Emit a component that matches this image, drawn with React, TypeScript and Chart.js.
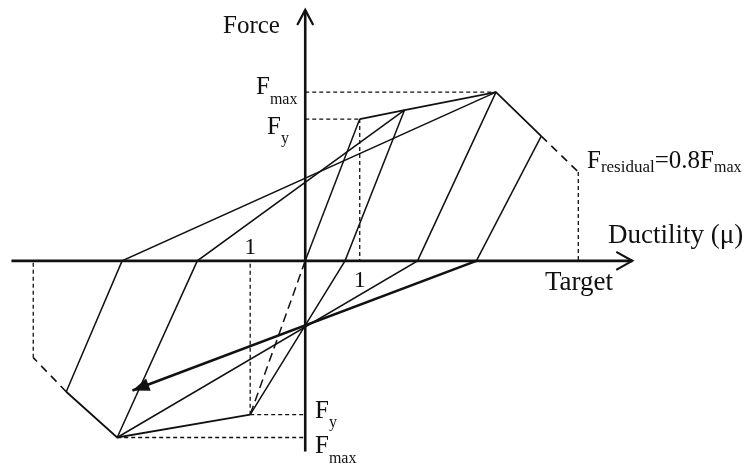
import React, { useEffect, useRef } from "react";
import { Chart, registerables } from "chart.js";

Chart.register(...registerables);

// Ductility (x, in units of yield displacement) and force (y, in units of Fy)
const xAxisLine = [[-5.39, 0], [6.0, 0]];
const yAxisLine = [[0, 1.77], [0, -1.345]];

const elasticPos = [[0, 0], [1.0, 1.0]];
const envelopePos = [[1.0, 1.0], [1.82, 1.063], [3.5, 1.19], [4.33, 0.88]];
const envelopePosDashed = [[4.33, 0.88], [5.01, 0.627]];
const envelopeNeg = [[-1.01, -1.085], [-3.45, -1.246], [-4.385, -0.923]];
const envelopeNegDashed = [[-4.385, -0.923], [-4.99, -0.683]];
const initialNegDashed = [[0, 0], [-1.01, -1.085]];

const unloadPos1 = [[1.82, 1.063], [0.73, 0], [-1.01, -1.085]];
const unloadPos2 = [[3.5, 1.19], [2.06, 0], [-3.45, -1.246]];
const unloadPos3 = [[4.33, 0.88], [3.14, 0]];
const targetArrow = [[3.14, 0], [-3.17, -0.915]];
const unloadNeg1 = [[-3.45, -1.246], [-1.98, 0], [1.82, 1.063]];
const unloadNeg2 = [[-4.385, -0.923], [-3.36, 0], [3.5, 1.19]];

const guideFmaxPos = [[0, 1.19], [3.5, 1.19]];
const guideFyPosH = [[0, 1.0], [1.0, 1.0]];
const guideFyPosV = [[1.0, 1.0], [1.0, 0]];
const guideResPos = [[5.01, 0.627], [5.01, 0]];
const guideFyNegH = [[-1.01, -1.085], [0, -1.085]];
const guideFyNegV = [[-1.01, -1.085], [-1.01, 0]];
const guideFmaxNeg = [[-3.45, -1.246], [0, -1.246]];
const guideResNeg = [[-4.99, -0.683], [-4.99, 0]];

const X_MIN = -5.6;
const X_MAX = 8.05;
const Y_MIN = -1.44;
const Y_MAX = 1.84;

const INK = "#111111";
const FONT = '"Liberation Serif", "Times New Roman", serif';

const toPts = (arr: number[][]) => arr.map(([x, y]) => ({ x, y }));

function line(data: number[][], width: number, dash: number[] = [], extra: any = {}) {
  return {
    data: toPts(data),
    showLine: true,
    borderColor: INK,
    backgroundColor: INK,
    borderWidth: width,
    borderDash: dash,
    pointRadius: 0,
    pointHoverRadius: 0,
    fill: false,
    tension: 0,
    borderCapStyle: "butt",
    borderJoinStyle: "miter",
    ...extra,
  };
}

function drawSub(
  ctx: CanvasRenderingContext2D,
  x: number,
  y: number,
  main: string,
  sub: string,
  mainSize: number,
  subSize: number,
  subDy: number
) {
  ctx.font = `${mainSize}px ${FONT}`;
  ctx.fillText(main, x, y);
  const w = ctx.measureText(main).width;
  ctx.font = `${subSize}px ${FONT}`;
  ctx.fillText(sub, x + w, y + subDy);
  return x + w + ctx.measureText(sub).width;
}

const decorPlugin = {
  id: "decor",
  afterDatasetsDraw(chart: any) {
    const ctx: CanvasRenderingContext2D = chart.ctx;
    const xs = chart.scales.x;
    const ys = chart.scales.y;
    ctx.save();
    ctx.strokeStyle = INK;
    ctx.fillStyle = INK;

    // x-axis arrow head (open chevron)
    const xe = xs.getPixelForValue(xAxisLine[1][0]);
    const y0 = ys.getPixelForValue(0);
    ctx.lineWidth = 2.2;
    ctx.beginPath();
    ctx.moveTo(xe - 16, y0 - 9);
    ctx.lineTo(xe, y0);
    ctx.lineTo(xe - 16, y0 + 9);
    ctx.stroke();

    // y-axis arrow head
    const x0 = xs.getPixelForValue(0);
    const yt = ys.getPixelForValue(yAxisLine[0][1]);
    ctx.beginPath();
    ctx.moveTo(x0 - 8, yt + 15);
    ctx.lineTo(x0, yt);
    ctx.lineTo(x0 + 8, yt + 15);
    ctx.stroke();

    // filled arrow head at end of target path
    const [ax0, ay0] = targetArrow[0];
    const [ax1, ay1] = targetArrow[1];
    const px0 = xs.getPixelForValue(ax0);
    const py0 = ys.getPixelForValue(ay0);
    const px1 = xs.getPixelForValue(ax1);
    const py1 = ys.getPixelForValue(ay1);
    const ang = Math.atan2(py1 - py0, px1 - px0);
    const L = 17;
    const H = 6.5;
    ctx.beginPath();
    ctx.moveTo(px1, py1);
    ctx.lineTo(
      px1 - L * Math.cos(ang) + H * Math.sin(ang),
      py1 - L * Math.sin(ang) - H * Math.cos(ang)
    );
    ctx.lineTo(
      px1 - L * Math.cos(ang) - H * Math.sin(ang),
      py1 - L * Math.sin(ang) + H * Math.cos(ang)
    );
    ctx.closePath();
    ctx.fill();

    // labels
    ctx.textBaseline = "alphabetic";
    ctx.textAlign = "left";
    ctx.font = `25px ${FONT}`;
    ctx.fillText("Force", 223, 33);
    ctx.font = `27px ${FONT}`;
    ctx.fillText("Ductility (\u03bc)", 608, 243);
    ctx.fillText("Target", 545, 290);

    ctx.textAlign = "center";
    ctx.font = `24px ${FONT}`;
    ctx.fillText("1", xs.getPixelForValue(-1.01), 254);
    ctx.fillText("1", xs.getPixelForValue(1.0), 287);
    ctx.textAlign = "left";

    drawSub(ctx, 256, 94, "F", "max", 25, 16, 10);
    drawSub(ctx, 267, 134, "F", "y", 25, 16, 9);
    drawSub(ctx, 315, 418, "F", "y", 25, 16, 9);
    drawSub(ctx, 315, 453, "F", "max", 25, 16, 10);

    let cx = drawSub(ctx, 587, 168, "F", "residual", 25, 17, 4);
    cx = drawSub(ctx, cx, 168, "=0.8F", "max", 25, 16, 4);

    ctx.restore();
  },
};

export default function App() {
  const ref = useRef<HTMLCanvasElement | null>(null);

  useEffect(() => {
    document.body.style.margin = "0";
    if (!ref.current) return;
    const thin = 1.5;
    const dashW = 1.3;
    const chart = new Chart(ref.current, {
      type: "scatter",
      data: {
        datasets: [
          line(xAxisLine, 2.6),
          line(yAxisLine, 2.6),
          line(guideFmaxPos, dashW, [4, 3]),
          line(guideFyPosH, dashW, [4, 3]),
          line(guideFyPosV, dashW, [4, 3]),
          line(guideResPos, dashW, [4, 3]),
          line(guideFyNegH, dashW, [4, 3]),
          line(guideFyNegV, dashW, [4, 3]),
          line(guideFmaxNeg, dashW, [4, 3]),
          line(guideResNeg, dashW, [4, 3]),
          line(envelopePosDashed, 1.6, [8, 6]),
          line(envelopeNegDashed, 1.6, [8, 6]),
          line(initialNegDashed, 1.5, [9, 5]),
          line(elasticPos, thin),
          line(envelopePos, 1.8),
          line(envelopeNeg, 1.8),
          line(unloadPos1, thin),
          line(unloadPos2, thin),
          line(unloadPos3, thin),
          line(unloadNeg1, thin),
          line(unloadNeg2, thin),
          line(targetArrow, 2.6),
        ] as any,
      },
      options: {
        animation: false,
        responsive: false,
        maintainAspectRatio: false,
        devicePixelRatio: 1,
        layout: { padding: 0 },
        events: [],
        scales: {
          x: { type: "linear", min: X_MIN, max: X_MAX, display: false },
          y: { type: "linear", min: Y_MIN, max: Y_MAX, display: false },
        },
        plugins: {
          legend: { display: false },
          tooltip: { enabled: false },
          title: { display: false },
        },
      } as any,
      plugins: [decorPlugin],
    });
    return () => chart.destroy();
  }, []);

  return (
    <div style={{ position: "absolute", left: 0, top: 0, width: 744, height: 465, background: "#fff" }}>
      <canvas ref={ref} width={744} height={465} style={{ width: 744, height: 465, display: "block" }} />
    </div>
  );
}
